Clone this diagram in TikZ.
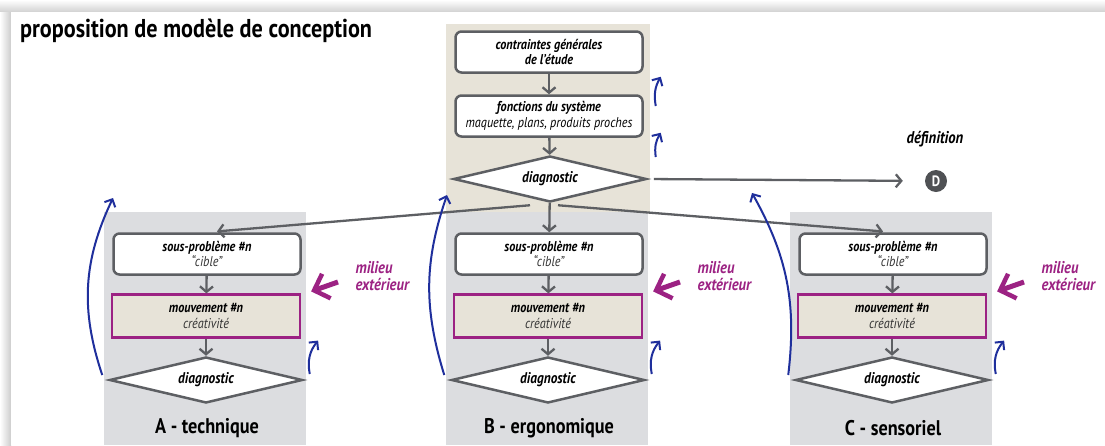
\documentclass[tikz,border=0pt]{standalone}
\usepackage{fontspec}
\setmainfont{PT Sans}[FakeStretch=0.86]
\usetikzlibrary{arrows.meta,shapes.geometric}
\definecolor{lgray}{HTML}{5D5F63}
\definecolor{dblue}{HTML}{1F2F9C}
\definecolor{mag}{HTML}{9C2283}
\definecolor{beige}{HTML}{E7E3D8}
\definecolor{pgray}{HTML}{DCDDE0}
\definecolor{ctext}{HTML}{333333}
\newcommand{\boxfont}{\fontsize{14.2}{15.5}\selectfont}
\tikzset{
  garrow/.style={draw=lgray, line width=2.3pt, -{Straight Barb[length=5.5pt,width=13pt,line width=2.3pt]}},
  box/.style={draw=lgray, line width=2.5pt, rounded corners=6pt, fill=white,
    minimum width=187pt, minimum height=41pt, align=center, inner sep=1pt, font=\boxfont},
  mbox/.style={draw=mag, line width=2.2pt, fill=beige, minimum width=188pt,
    minimum height=43pt, align=center, inner sep=1pt, font=\boxfont},
  diam/.style={diamond, aspect=4, draw=lgray, line width=2.5pt, fill=white,
    minimum width=193pt, minimum height=46pt, inner sep=0pt, font=\fontsize{15.5}{16}\selectfont\bfseries\itshape},
  barrow/.style={draw=dblue, line width=2pt, -{Straight Barb[length=6pt,width=12pt,line width=2pt]}},
  marrow/.style={draw=mag, line width=5pt, -{Straight Barb[length=13pt,width=26pt,line width=4.5pt]}},
  milieu/.style={anchor=west, align=left, text=mag, font=\fontsize{17}{17.5}\selectfont\bfseries\itshape},
  collabel/.style={font=\fontsize{21.2}{23}\selectfont\bfseries},
}
\begin{document}
\begin{tikzpicture}[x=1pt,y=-1pt]
\useasboundingbox (0,0) rectangle (1105,445);
% background and panel shadow
\fill[white] (0,0) rectangle (1105,445);
\shade[top color=white, bottom color=black!18] (0,0) rectangle (1105,12);
\shade[left color=white, right color=black!20] (0,12) rectangle (11,445);
\fill[white] (11,12) rectangle (1105,445);
% panels
\fill[beige] (446,24) rectangle (650,212);
\foreach \cx in {207,549,893}{
  \fill[pgray] (\cx-103,212) rectangle (\cx+99,445);
}
% title
\node[anchor=base west, inner sep=0pt, font=\fontsize{25.8}{27}\selectfont\bfseries] (title) at (20,37) {proposition de modèle de conception};
% top column
\node[box] (c1) at (549,52) {\textbf{\textit{contraintes générales}}\\\textbf{\textit{de l’étude}}};
\node[box] (c2) at (549,116) {\textbf{\textit{fonctions du système}}\\\textit{maquette, plans, produits proches}};
\node[diam] (diag) at (550,179) {diagnostic};
\draw[garrow] (c1) -- (c2);
\draw[garrow] (c2) -- (diag);
% definition
\node[circle, fill=lgray!85!black, text=white, minimum size=22pt, inner sep=0pt, font=\fontsize{15}{15}\selectfont\bfseries] (dnode) at (936,181) {D};
\node[font=\fontsize{17}{18}\selectfont\bfseries\itshape] (defn) at (935,139) {définition};
\draw[garrow, shorten <=6pt, shorten >=22pt] (diag.east) -- (dnode.west);
% columns
\foreach \cx/\lab/\n in {207/A - technique/A, 549/B - ergonomique/B, 893/C - sensoriel/C}{
  \node[box] (s\n) at (\cx,254) {\textbf{\textit{sous-problème \#n}}\\\textcolor{ctext}{\textit{“cible”}}};
  \node[mbox] (m\n) at (\cx-1,316) {\textbf{\textit{mouvement \#n}}\\\textcolor{ctext}{\textit{créativité}}};
  \node[diam] (d\n) at (\cx-1,380) {diagnostic};
  \node[collabel] (l\n) at (\cx,428) {\lab};
  \draw[garrow] (s\n) -- (m\n);
  \draw[garrow] (m\n) -- (d\n);
  \node[milieu] (e\n) at (\cx+145,276) {milieu\\extérieur};
  \draw[marrow] ([xshift=-14pt,yshift=-6pt]e\n.west) -- ([xshift=10pt,yshift=2pt]m\n.north east);
  \draw[barrow] ([xshift=6pt,yshift=6pt]d\n.east) to[bend left=25] ([xshift=17pt,yshift=-2pt]m\n.south east);
}
% distribution from top diagnostic
\draw[garrow] (diag) -- (sB);
\draw[garrow, shorten >=10pt] ([xshift=-20pt,yshift=-2pt]diag.south) -- (sA.north);
\draw[garrow, shorten >=10pt] ([xshift=8pt,yshift=-2pt]diag.south) -- (sC.north);
% blue loops at top
\draw[barrow] ([xshift=12pt,yshift=10pt]c2.east) to[bend left=20] ([xshift=17pt,yshift=-3pt]c1.south east);
\draw[barrow] ([xshift=8pt,yshift=22pt]diag.east) to[bend left=20] ([xshift=17pt,yshift=5pt]c2.south east);
% big blue loops
\coordinate (tA) at (113,198);
\coordinate (tB) at (447,195);
\coordinate (tC) at (752,193);
\draw[barrow] ([xshift=-6pt,yshift=5pt]dA.west) to[bend left=22] (tA);
\draw[barrow] ([xshift=-6pt,yshift=5pt]dB.west) to[bend left=18] (tB);
\draw[barrow] ([xshift=-6pt,yshift=5pt]dC.west) to[bend right=18] (tC);
\end{tikzpicture}
\end{document}
